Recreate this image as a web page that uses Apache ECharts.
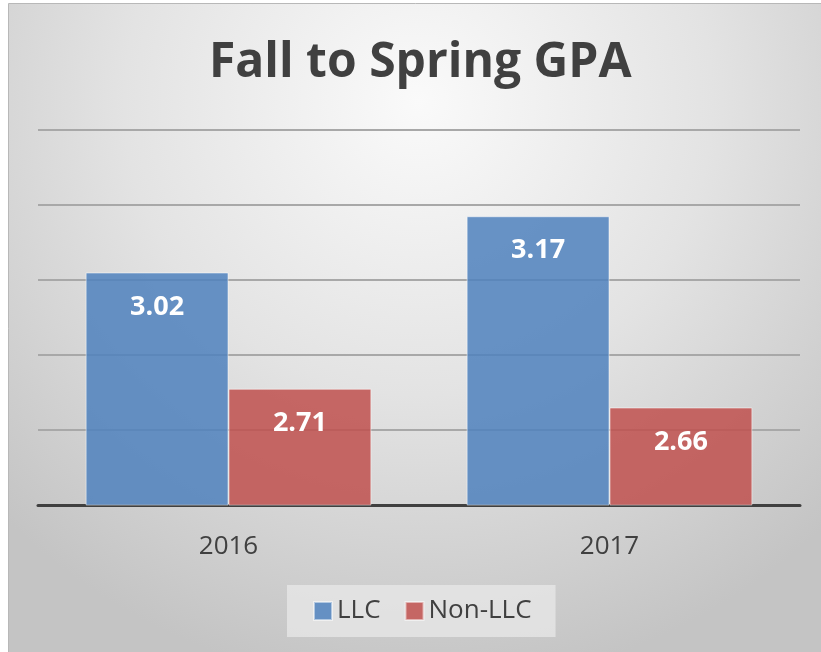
<!DOCTYPE html>
<html>
<head>
<meta charset="utf-8">
<script src="https://cdn.jsdelivr.net/npm/echarts@6/dist/echarts.min.js"></script>
<style>
  html, body { margin: 0; padding: 0; background: #fff; }
  #main { width: 821px; height: 652px; }
</style>
</head>
<body>
<div id="main"></div>
<script>
// chart data
const years = ['2016', '2017']
const llcGpa = [3.02, 3.17]
const nonLlcGpa = [2.71, 2.66]

const chart = echarts.init(document.getElementById('main'))

const labelStyle = {
  show: true,
  position: 'insideTop',
  distance: 21,
  color: '#fff',
  fontSize: 27,
  fontWeight: 'bold',
  fontFamily: 'Open Sans'
}

chart.setOption({
  backgroundColor: '#fff',
  animation: false,
  graphic: [
    {
      type: 'rect',
      z: -10,
      silent: true,
      shape: { x: 8.5, y: 3.5, width: 820, height: 652 },
      style: {
        fill: new echarts.graphic.RadialGradient(0.5, 0.15, 0.9, [
          { offset: 0, color: '#fafafa' },
          { offset: 0.5, color: '#e3e3e3' },
          { offset: 1, color: '#c4c4c4' }
        ]),
        stroke: '#b8b8b8',
        lineWidth: 1
      }
    }
  ],
  title: {
    text: 'Fall to Spring GPA',
    left: 204,
    top: 34,
    textStyle: {
      fontFamily: 'Open Sans',
      fontWeight: 'bold',
      fontSize: 48,
      color: '#404040'
    }
  },
  legend: {
    bottom: 15,
    left: 287,
    icon: 'rect',
    itemWidth: 18,
    itemHeight: 18,
    itemGap: 24,
    padding: [13, 24, 13, 26],
    backgroundColor: 'rgba(232,232,232,0.75)',
    textStyle: {
      fontFamily: 'Open Sans',
      fontSize: 26,
      color: '#404040'
    },
    data: ['LLC', 'Non-LLC']
  },
  grid: {
    left: 38,
    right: 21,
    top: 130,
    bottom: 147
  },
  xAxis: {
    type: 'category',
    data: years,
    axisTick: { show: false },
    axisLine: { lineStyle: { color: '#404040', width: 3 } },
    axisLabel: {
      margin: 29,
      fontFamily: 'Open Sans',
      fontSize: 26,
      color: '#404040'
    }
  },
  yAxis: {
    type: 'value',
    min: 2.4,
    max: 3.4,
    interval: 0.2,
    axisLabel: { show: false },
    axisLine: { show: false },
    axisTick: { show: false },
    splitLine: { lineStyle: { color: '#a8a8a8', width: 2 } }
  },
  series: [
    {
      name: 'LLC',
      type: 'bar',
      data: llcGpa,
      barGap: '0%',
      barCategoryGap: '25%',
      itemStyle: {
        color: 'rgba(79,129,189,0.85)',
        borderColor: 'rgba(255,255,255,0.5)',
        borderWidth: 1
      },
      label: labelStyle
    },
    {
      name: 'Non-LLC',
      type: 'bar',
      data: nonLlcGpa,
      itemStyle: {
        color: 'rgba(192,80,77,0.85)',
        borderColor: 'rgba(255,255,255,0.5)',
        borderWidth: 1
      },
      label: labelStyle
    }
  ]
})
</script>
</body>
</html>
